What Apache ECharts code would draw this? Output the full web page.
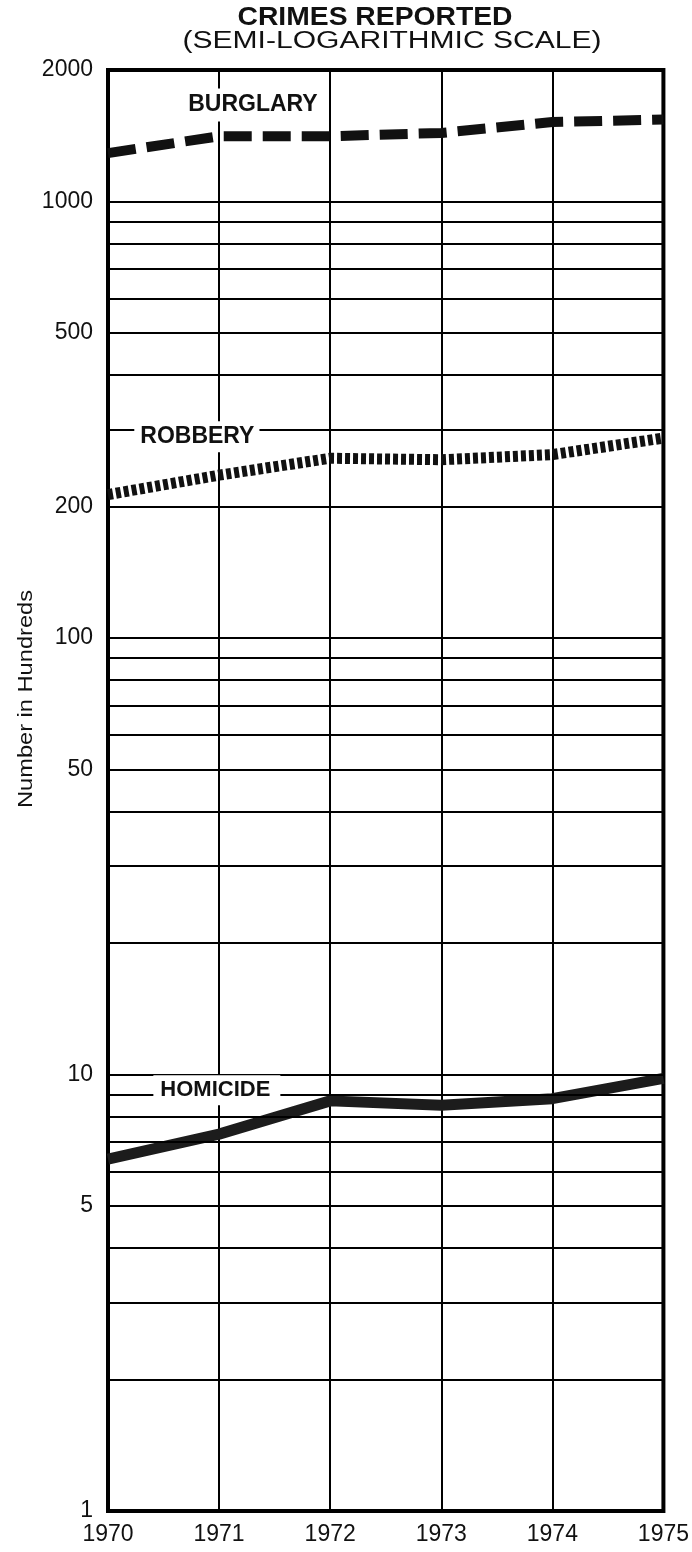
<!DOCTYPE html>
<html><head><meta charset="utf-8">
<script src="https://cdn.jsdelivr.net/npm/echarts@6/dist/echarts.min.js"></script>
<style>html,body{margin:0;padding:0;background:#fff}#chart{width:692px;height:1552px}</style>
</head><body><div id="chart"></div>
<script>
// ---- data ----
const years = [1970, 1971, 1972, 1973, 1974, 1975];
const burglary = [1290, 1410, 1410, 1435, 1520, 1540];
const robbery = [213, 236, 258, 256, 263, 287];
const homicide = [6.4, 7.3, 8.7, 8.5, 8.8, 9.8];
const gridValues = [2, 3, 4, 5, 6, 7, 8, 9, 10, 20, 30, 40, 50, 60, 70, 80, 90, 100,
  200, 300, 400, 500, 600, 700, 800, 900, 1000];
const yLabelValues = [1, 5, 10, 50, 100, 200, 500, 1000, 2000];
const seriesNames = ['BURGLARY', 'ROBBERY', 'HOMICIDE'];
const titleText = 'CRIMES REPORTED';
const subtitleText = '(SEMI-LOGARITHMIC SCALE)';
const yAxisName = 'Number in Hundreds';

// ---- helpers ----
const FONT = '"Liberation Sans", Arial, Helvetica, sans-serif';
function textWidth(t, font) {
  const c = document.createElement('canvas').getContext('2d');
  c.font = font; return c.measureText(t).width;
}
function stretchedText(text, font, targetW, x, y, rot) {
  return {
    type: 'text', x: x, y: y, rotation: rot || 0,
    scaleX: targetW / textWidth(text, font), scaleY: 1,
    style: { text: text, font: font, fill: '#111', align: 'center', verticalAlign: 'middle' },
    silent: true, z: 10
  };
}
const pairs = arr => years.map((y, i) => [y, arr[i]]);

// label anchors (data space) for the in-plot series names
const nameAnchors = [
  { coord: [1971.30, 1663], pad: [5, 7, 5, 8], size: 23 },
  { coord: [1970.80, 289], pad: [4, 5, 4, 6], size: 23 },
  { coord: [1970.98, 9.2], pad: [3, 10, 5, 7], size: 22 }
];

const chart = echarts.init(document.getElementById('chart'), null, { renderer: 'canvas' });
chart.setOption({
  backgroundColor: '#fff',
  animation: false,
  grid: { left: 108, right: 25, top: 70, bottom: 41, show: true, borderColor: '#000', borderWidth: 4, backgroundColor: 'transparent' },
  xAxis: {
    type: 'value', min: 1970, max: 1975, interval: 1,
    axisLine: { show: false }, axisTick: { show: false },
    axisLabel: { fontSize: 23, fontFamily: FONT, color: '#111', margin: 12, formatter: v => String(v) },
    splitLine: { show: true, lineStyle: { color: '#000', width: 2 } }
  },
  yAxis: {
    type: 'log', logBase: 10, min: 1, max: 2000,
    axisLine: { show: false }, axisTick: { show: false }, axisLabel: { show: false },
    splitLine: { show: false }
  },
  graphic: [
    stretchedText(titleText, 'bold 25px ' + FONT, 275, 375, 18),
    stretchedText(subtitleText, '23px ' + FONT, 419, 392, 42),
    stretchedText(yAxisName, '21px ' + FONT, 218, 26, 699, Math.PI / 2)
  ],
  series: [
    {
      type: 'line', data: [], z: 1, silent: true,
      markLine: {
        silent: true, symbol: ['none', 'none'], animation: false,
        lineStyle: { color: '#000', width: 2, type: 'solid' },
        label: { show: false },
        data: gridValues.map(v => ({ yAxis: v }))
      },
      markPoint: {
        silent: true, symbol: 'circle', symbolSize: 0, animation: false,
        label: { show: true, position: 'left', distance: 15, fontSize: 23, fontFamily: FONT, color: '#111',
          formatter: p => String(p.data.coord[1]) },
        data: yLabelValues.map(v => ({ coord: [1970, v] }))
      }
    },
    {
      name: seriesNames[0], type: 'line', data: pairs(burglary), symbol: 'none', z: 3,
      lineStyle: { color: '#111', width: 10, type: [28, 11], cap: 'butt' }
    },
    {
      name: seriesNames[1], type: 'line', data: pairs(robbery), symbol: 'none', z: 3,
      lineStyle: { color: '#111', width: 11, type: [5, 3], cap: 'butt' }
    },
    {
      name: seriesNames[2], type: 'line', data: pairs(homicide), symbol: 'none', z: 3,
      lineStyle: { color: '#1c1c1c', width: 11, type: 'solid', join: 'round' }
    },
    {
      type: 'line', data: [], z: 5, silent: true,
      markPoint: {
        silent: true, symbol: 'circle', symbolSize: 0, animation: false,
        data: seriesNames.map((n, i) => ({
          coord: nameAnchors[i].coord, value: n,
          label: {
            show: true, position: 'inside', formatter: n, color: '#111',
            fontSize: nameAnchors[i].size, fontWeight: 'bold', fontFamily: FONT,
            backgroundColor: '#fff', padding: nameAnchors[i].pad
          }
        }))
      }
    }
  ]
});
</script></body></html>
